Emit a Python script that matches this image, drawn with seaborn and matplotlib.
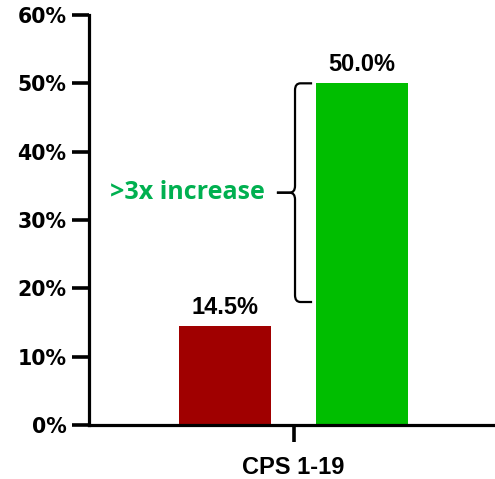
import matplotlib
matplotlib.use("Agg")
import matplotlib.pyplot as plt
from matplotlib.path import Path
from matplotlib.patches import PathPatch
import seaborn as sns
import pandas as pd

# Chart data
category = ["CPS 1-19", "CPS 1-19"]
groups = ["Baseline", "Follow-up"]
values = [14.5, 50.0]
value_labels = ["14.5%", "50.0%"]
bar_colors = ["#A00000", "#00BE00"]
yticks = [0, 10, 20, 30, 40, 50, 60]
ytick_labels = ["0%", "10%", "20%", "30%", "40%", "50%", "60%"]
annotation = ">3x increase"
brace_range = [18.0, 50.0]

df = pd.DataFrame({"category": category, "group": groups, "value": values})

sns.set_style("white")
plt.rcParams.update({"text.color": "black", "xtick.color": "black",
                     "ytick.color": "black", "axes.labelcolor": "black"})
arial = ["Liberation Sans", "DejaVu Sans"]

fig = plt.figure(figsize=(4.95, 4.79), dpi=100)
ax = fig.add_axes([0.1788, 0.1127, 0.8192, 0.856])

sns.barplot(data=df, x="category", y="value", hue="group",
            palette=bar_colors, width=0.8, gap=0.327, saturation=1,
            legend=False, ax=ax, linewidth=0)

ax.set_xlim(-0.600, 0.586)
ax.set_ylim(0, 60)
ax.set_yticks(yticks)
ax.set_yticklabels(ytick_labels, fontfamily="DejaVu Sans",
                   fontweight="bold", fontsize=14.8)
ax.set_xlabel("")
ax.set_ylabel("")
for lab in ax.get_xticklabels():
    lab.set_fontfamily(arial)
    lab.set_fontweight("bold")
    lab.set_fontsize(17)

sns.despine(ax=ax)
for side in ("left", "bottom"):
    ax.spines[side].set_linewidth(2.3)
    ax.spines[side].set_color("black")
ax.tick_params(axis="both", length=12.5, width=2.6, color="black",
               direction="out", left=True, bottom=True)
ax.tick_params(axis="y", pad=3.5)
ax.tick_params(axis="x", pad=9.5)

# Value labels above bars
for cont, lab in zip(ax.containers, value_labels):
    ax.bar_label(cont, labels=[lab], padding=5,
                 fontfamily=arial, fontweight="bold", fontsize=17)

# Curly brace spanning the difference
x0 = 0.004
arm = 0.050
tip = 0.053
rx = 0.016
ry = 1.0
lo, hi = brace_range
mid = (lo + hi) / 2
for end, sgn in ((hi, 1), (lo, -1)):
    verts = [
        (x0 + arm, end),
        (x0 + rx, end),
        (x0, end), (x0, end - sgn * ry),
        (x0, mid + sgn * ry),
        (x0, mid), (x0 - rx, mid),
        (x0 - tip, mid),
    ]
    codes = [Path.MOVETO, Path.LINETO, Path.CURVE3, Path.CURVE3,
             Path.LINETO, Path.CURVE3, Path.CURVE3, Path.LINETO]
    ax.add_patch(PathPatch(Path(verts, codes), fill=False,
                           edgecolor="black", linewidth=1.6,
                           capstyle="butt", joinstyle="round"))

ax.text(x0 - tip - 0.035, mid, annotation, ha="right", va="center",
        color="#00B050", fontfamily="Open Sans", fontweight="bold",
        fontsize=18)

fig.savefig("out.png", dpi=100)
